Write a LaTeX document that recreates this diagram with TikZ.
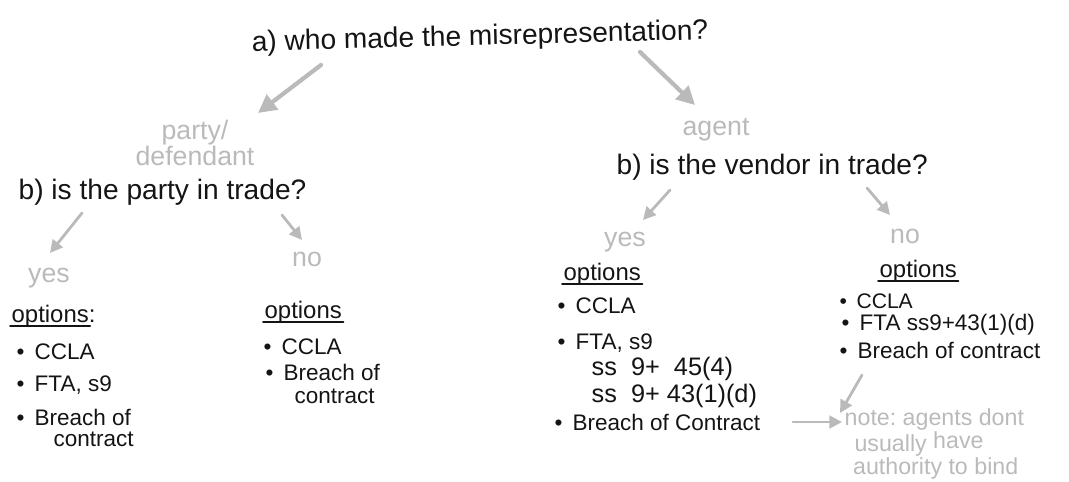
\documentclass[tikz,border=0pt]{standalone}
\usepackage{fontspec}
\setmainfont{Liberation Sans}
\definecolor{ink}{HTML}{141414}
\definecolor{pencil}{HTML}{BABABA}
\usetikzlibrary{arrows.meta}
\newcommand{\itembul}{\textbullet\hspace{0.45em}}
\frenchspacing

\begin{document}
\begin{tikzpicture}[x=0.025cm, y=-0.025cm,
  ask/.style={font=\fontsize{20}{24}\selectfont, text=ink, inner sep=1pt},
  pick/.style={font=\fontsize{19}{18}\selectfont, text=pencil, inner sep=1pt, align=center},
  opthead/.style={font=\fontsize{17}{20}\selectfont, text=ink, inner sep=1pt, anchor=west},
  optline/.style={font=\fontsize{16}{19}\selectfont, text=ink, inner sep=1pt, anchor=west},
  aside/.style={font=\fontsize{16.5}{14}\selectfont, text=pencil, inner sep=1pt, align=left},
  uline/.style={draw=ink, line width=1.4pt, line cap=round},
  garrow/.style={draw=pencil, line width=2pt, line cap=round, -{Triangle[length=9pt,width=9pt]}},
  bigarrow/.style={garrow, line width=3pt, -{Triangle[length=13pt,width=13pt]}}]
\useasboundingbox (0,0) rectangle (1069,481);

% Question a) and the two answers
\node[ask, rotate=1.5] (qa) at (480,38) {a) who made the misrepresentation?};
\node[pick] (party) at (195,143) {party/\\defendant};
\node[pick] (agent) at (716,130) {agent};
\draw[bigarrow] ([shift={(-159,27)}]qa.center) -- ([shift={(63,-30)}]party.center);
\draw[bigarrow] ([shift={(160,14)}]qa.center) -- ([shift={(-21,-25)}]agent.center);

% Left branch: party in trade?
\node[ask, anchor=west] (qbl) at (17,192) {b) is the party in trade?};
\node[pick] (yesl) at (49,278) {yes};
\node[pick] (nol) at (307,259) {no};
\draw[garrow] ([shift={(65,21)}]qbl.west) -- ([shift={(1,-25)}]yesl.center);
\draw[garrow] ([shift={(265,23)}]qbl.west) -- ([shift={(-5,-19)}]nol.center);

% Options, party in trade
\node[opthead] (lopt) at (10,316) {options:};
\draw[uline, shorten >=5pt] ([yshift=-3pt]lopt.base west) -- ([yshift=-3pt]lopt.base east);
\node[optline] (l1) at (15,352) {\itembul CCLA};
\node[optline] (l2) at (15,385) {\itembul FTA, s9};
\node[optline] (l3) at (15,417) {\itembul Breach of};
\node[optline] (l4) at (52,439) {contract};

% Options, party not in trade
\node[opthead] (mopt) at (263,312) {options};
\draw[uline] ([yshift=-3pt]mopt.base west) -- ([yshift=-3pt]mopt.base east);
\node[optline] (m1) at (262,347) {\itembul CCLA};
\node[optline] (m2) at (264,372) {\itembul Breach of};
\node[optline] (m3) at (293,396) {contract};

% Right branch: vendor in trade?
\node[ask, anchor=west] (qbr) at (615,167) {b) is the vendor in trade?};
\node[pick] (yesr) at (625,242) {yes};
\node[pick] (nor) at (905,236) {no};
\draw[garrow] ([shift={(55,23)}]qbr.west) -- ([shift={(18,-22)}]yesr.center);
\draw[garrow] ([shift={(252,21)}]qbr.west) -- ([shift={(-15,-21)}]nor.center);

% Options, vendor in trade
\node[opthead] (ryopt) at (562,274) {options};
\draw[uline] ([yshift=-3pt]ryopt.base west) -- ([yshift=-3pt]ryopt.base east);
\node[optline] (ry1) at (556,306) {\itembul CCLA};
\node[optline] (ry2) at (556,343) {\itembul FTA, s9};
\node[optline, font=\fontsize{18}{20}\selectfont] (ry3) at (590,369) {ss\ \ 9+\ \ 45(4)};
\node[optline, font=\fontsize{18}{20}\selectfont] (ry4) at (590,396) {ss\ \ 9+\ 43(1)(d)};
\node[optline] (ry5) at (553,422) {\itembul Breach of Contract};

% Options, vendor not in trade
\node[opthead] (rnopt) at (878,271) {options};
\draw[uline] ([yshift=-3pt]rnopt.base west) -- ([yshift=-3pt]rnopt.base east);
\node[optline, font=\fontsize{15}{18}\selectfont] (rn1) at (838,301) {\itembul CCLA};
\node[optline] (rn2) at (840,325) {\itembul FTA ss9+43(1)(d)};
\node[optline] (rn3) at (838,350) {\itembul Breach of contract};

% Side note on agents
\node[aside, anchor=north west] (note) at (843,407)
  {note: agents dont\\\hspace{7pt}usually \raisebox{2pt}{have}\\\hspace{6pt}authority to bind};
\draw[garrow, shorten <=22pt] (ry5.east) -- ([shift={(-1,15)}]note.north west);
\draw[garrow] ([shift={(24,25)}]rn3.west) -- ([shift={(-3,6)}]note.north west);

\end{tikzpicture}
\end{document}
